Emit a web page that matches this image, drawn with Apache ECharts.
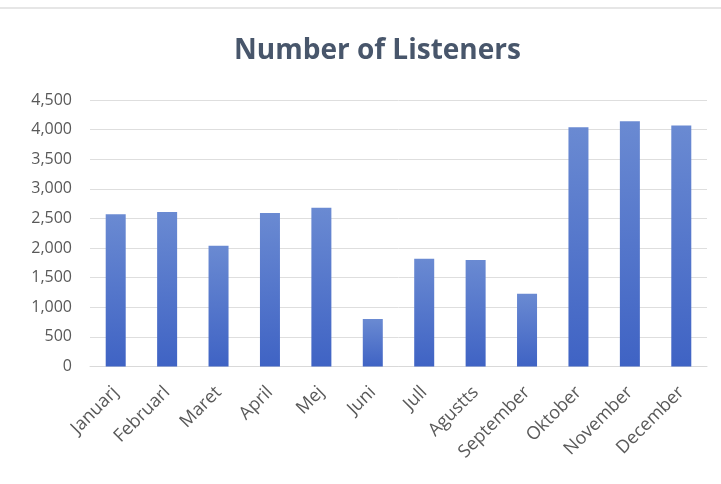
<!DOCTYPE html>
<html><head><meta charset="utf-8">
<script src="https://cdn.jsdelivr.net/npm/echarts@6/dist/echarts.min.js"></script>
<style>html,body{margin:0;padding:0;background:#fff}#c{width:721px;height:484px}</style>
</head><body><div id="c"></div>
<script>
var categories = ["Januarj","Februarl","Maret","April","Mej","Juni","Jull","Agustts","September","Oktober","November","December"];
var listeners = [2570, 2610, 2040, 2590, 2680, 800, 1820, 1800, 1230, 4040, 4140, 4070];
var yTicks = {min: 0, max: 4500, interval: 500};

var chart = echarts.init(document.getElementById('c'));
chart.setOption({
  backgroundColor: '#ffffff',
  animation: false,
  title: {
    text: 'Number of Listeners', left: 229, top: 32,
    textStyle: {fontFamily: 'Open Sans', fontSize: 28, fontWeight: 'bold', color: '#48566b'}
  },
  graphic: [{type: 'rect', shape: {x: 0, y: 7, width: 721, height: 2}, style: {fill: '#e6e6e6'}}],
  grid: {left: 90, right: 14, top: 100, bottom: 117.5},
  xAxis: {
    type: 'category', data: categories,
    axisLine: {lineStyle: {color: '#d9d9d9', width: 1}},
    axisTick: {show: false},
    axisLabel: {rotate: 45, color: '#595959', fontFamily: 'Open Sans', fontSize: 18, margin: 23, interval: 0}
  },
  yAxis: {
    type: 'value', min: yTicks.min, max: yTicks.max, interval: yTicks.interval,
    axisLine: {show: false}, axisTick: {show: false},
    splitLine: {lineStyle: {color: '#dedede', width: 1}},
    axisLabel: {color: '#595959', fontFamily: 'Open Sans', fontSize: 16, margin: 18,
      formatter: function (v) { return v.toLocaleString('en-US'); }}
  },
  series: [{
    type: 'bar', data: listeners, barWidth: 20,
    itemStyle: {color: new echarts.graphic.LinearGradient(0, 0, 0, 1, [
      {offset: 0, color: '#6a8ad2'}, {offset: 1, color: '#3f63c4'}])}
  }]
});
</script></body></html>
